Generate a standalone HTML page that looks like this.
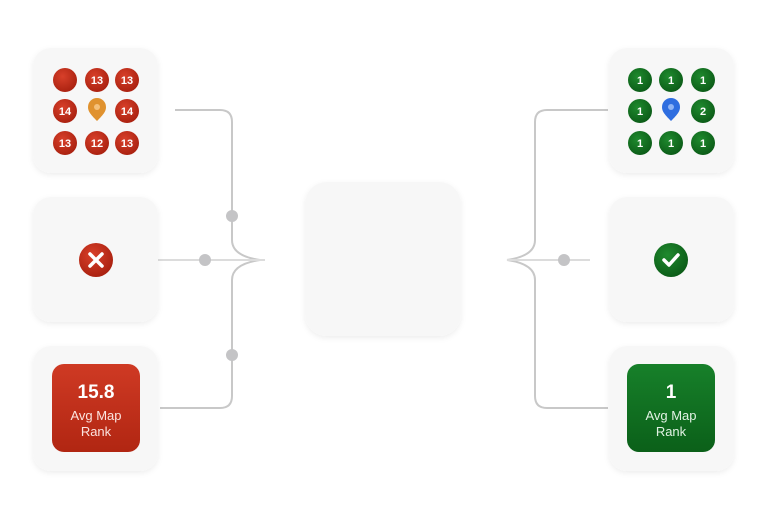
<!DOCTYPE html>
<html><head><style>
html,body{margin:0;padding:0;background:#fff;}
svg{display:block;font-family:"Liberation Sans",sans-serif;}
</style></head><body>
<svg width="768" height="519" viewBox="0 0 768 519" xmlns="http://www.w3.org/2000/svg">
<defs>
<radialGradient id="rg" cx="0.4" cy="0.35" r="0.7"><stop offset="0" stop-color="#d8402a"/><stop offset="1" stop-color="#a8200f"/></radialGradient>
<radialGradient id="gg" cx="0.4" cy="0.35" r="0.7"><stop offset="0" stop-color="#1f8a2e"/><stop offset="1" stop-color="#0b5a17"/></radialGradient>
<linearGradient id="rb" x1="0" y1="0" x2="0" y2="1"><stop offset="0" stop-color="#cf3a24"/><stop offset="1" stop-color="#b12612"/></linearGradient>
<linearGradient id="gb" x1="0" y1="0" x2="0" y2="1"><stop offset="0" stop-color="#17802a"/><stop offset="1" stop-color="#0b6019"/></linearGradient>
<filter id="sh" x="-20%" y="-20%" width="140%" height="140%"><feDropShadow dx="0" dy="2" stdDeviation="3" flood-color="#000" flood-opacity="0.07"/></filter>
</defs>
<rect width="768" height="519" fill="#fff"/>
<!-- connectors -->
<g fill="none" stroke="#c8c8c8" stroke-width="2">
<path d="M175 110 H220 Q232 110 232 122 V240 Q232 256 260 260"/>
<path d="M160 408 H220 Q232 408 232 396 V280 Q232 264 260 260"/>
<path d="M140 260 H265" stroke="#dcdcdc"/>
<path d="M608 110 H547 Q535 110 535 122 V240 Q535 256 507 260"/>
<path d="M608 408 H547 Q535 408 535 396 V280 Q535 264 507 260"/>
<path d="M507 260 H590" stroke="#dcdcdc"/>
</g>
<g fill="#c4c4c6"><circle cx="232" cy="216" r="6"/><circle cx="232" cy="355" r="6"/><circle cx="205" cy="260" r="6"/><circle cx="564" cy="260" r="6"/></g>
<!-- cards -->
<g fill="#f7f7f7" filter="url(#sh)">
<rect x="33" y="48" width="125" height="125" rx="18"/>
<rect x="33" y="197" width="125" height="125" rx="18"/>
<rect x="33" y="346" width="125" height="125" rx="18"/>
<rect x="305" y="182" width="156" height="154" rx="22"/>
<rect x="609" y="48" width="125" height="125" rx="18"/>
<rect x="609" y="197" width="125" height="125" rx="18"/>
<rect x="609" y="346" width="125" height="125" rx="18"/>
</g>
<!-- red grid -->
<g fill="url(#rg)">
<circle cx="65" cy="80" r="12"/><circle cx="97" cy="80" r="12"/><circle cx="127" cy="80" r="12"/>
<circle cx="65" cy="111" r="12"/><circle cx="127" cy="111" r="12"/>
<circle cx="65" cy="143" r="12"/><circle cx="97" cy="143" r="12"/><circle cx="127" cy="143" r="12"/>
</g>
<path d="M97 121 C90 114 88 111 88 107 A9 9 0 0 1 106 107 C106 111 104 114 97 121Z" fill="#e0922f"/>
<circle cx="97" cy="107" r="3" fill="#f5c07a"/>
<g fill="#fff" font-size="11" font-weight="bold" text-anchor="middle">
<text x="97" y="84">13</text><text x="127" y="84">13</text>
<text x="65" y="115">14</text><text x="127" y="115">14</text>
<text x="65" y="147">13</text><text x="97" y="147">12</text><text x="127" y="147">13</text>
</g>
<circle cx="96" cy="260" r="17" fill="url(#rg)"/>
<path d="M90 254 L102 266 M102 254 L90 266" stroke="#fff" stroke-width="3.5" stroke-linecap="round"/>
<rect x="52" y="364" width="88" height="88" rx="12" fill="url(#rb)"/>
<g fill="#fff" text-anchor="middle"><text x="96" y="398" font-size="19" font-weight="bold">15.8</text>
<text x="96" y="420" font-size="13" fill="#fbe4df">Avg Map</text><text x="96" y="436" font-size="13" fill="#fbe4df">Rank</text></g>
<!-- green grid -->
<g fill="url(#gg)">
<circle cx="640" cy="80" r="12"/><circle cx="671" cy="80" r="12"/><circle cx="703" cy="80" r="12"/>
<circle cx="640" cy="111" r="12"/><circle cx="703" cy="111" r="12"/>
<circle cx="640" cy="143" r="12"/><circle cx="671" cy="143" r="12"/><circle cx="703" cy="143" r="12"/>
</g>
<path d="M671 121 C664 114 662 111 662 107 A9 9 0 0 1 680 107 C680 111 678 114 671 121Z" fill="#2f6ee0"/>
<circle cx="671" cy="107" r="3" fill="#8fb4f5"/>
<g fill="#fff" font-size="11" font-weight="bold" text-anchor="middle">
<text x="640" y="84">1</text><text x="671" y="84">1</text><text x="703" y="84">1</text>
<text x="640" y="115">1</text><text x="703" y="115">2</text>
<text x="640" y="147">1</text><text x="671" y="147">1</text><text x="703" y="147">1</text>
</g>
<circle cx="671" cy="260" r="17" fill="url(#gg)"/>
<path d="M664 260 L669 265 L678 255" stroke="#fff" stroke-width="3.5" fill="none" stroke-linecap="round" stroke-linejoin="round"/>
<rect x="627" y="364" width="88" height="88" rx="12" fill="url(#gb)"/>
<g fill="#fff" text-anchor="middle"><text x="671" y="398" font-size="19" font-weight="bold">1</text>
<text x="671" y="420" font-size="13" fill="#e2f2e4">Avg Map</text><text x="671" y="436" font-size="13" fill="#e2f2e4">Rank</text></g>
</svg>
</body></html>
